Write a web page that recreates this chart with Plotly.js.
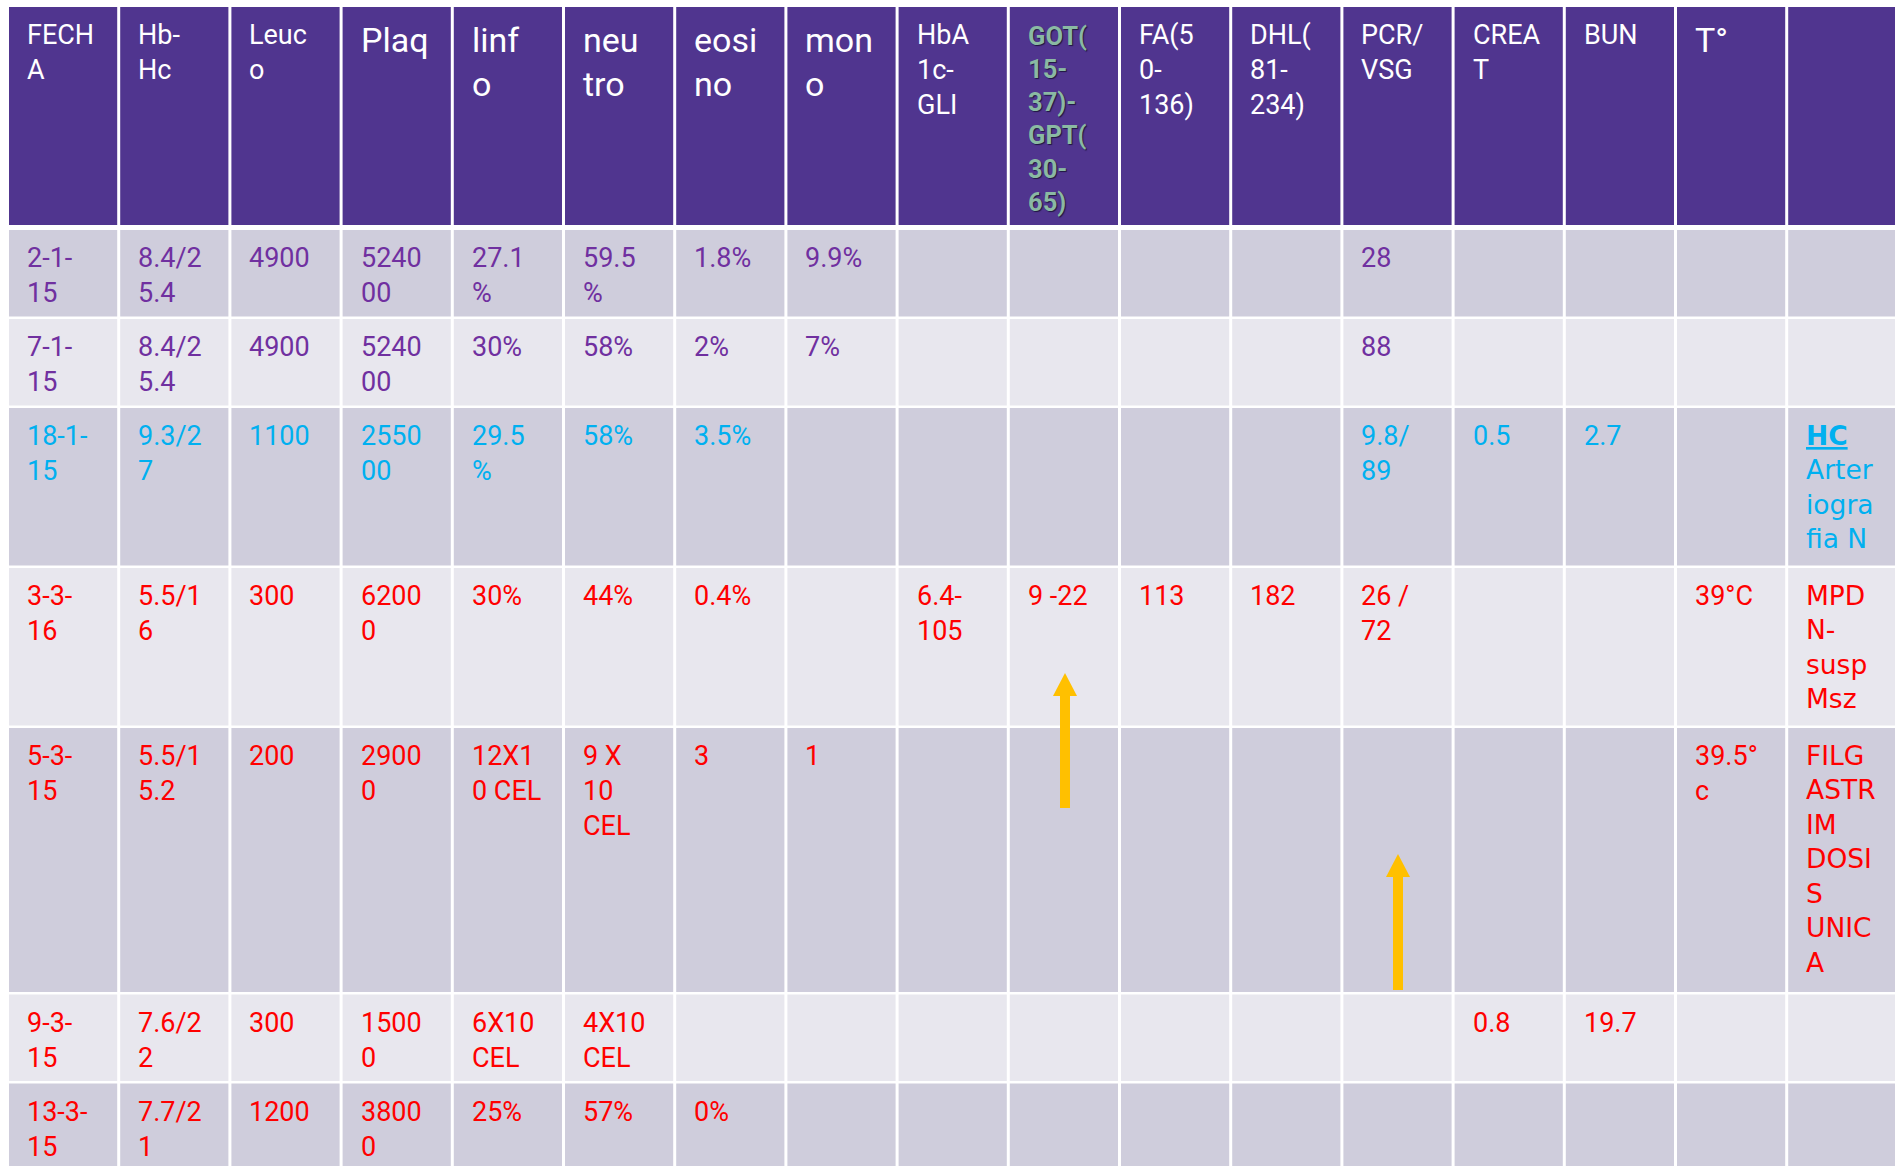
<!DOCTYPE html>
<html><head><meta charset="utf-8">
<script src="https://cdn.plot.ly/plotly-3.0.1.min.js"></script>
<style>html,body{margin:0;padding:0;background:#fff;overflow:hidden}#chart{width:1895px;height:1166px}</style>
</head><body><div id="chart"></div>
<script>
// ---------- DATA (cell texts as shown, "\n" = line break in the slide) ----------
const headers = ['FECH\nA','Hb-\nHc','Leuc\no','Plaq','linf\no','neu\ntro','eosi\nno','mon\no','HbA\n1c-\nGLI','GOT(\n15-\n37)-\nGPT(\n30-\n65)','FA(5\n0-\n136)','DHL(\n81-\n234)','PCR/\nVSG','CREA\nT','BUN','T°',''];
const fecha    = ['2-1-\n15','7-1-\n15','18-1-\n15','3-3-\n16','5-3-\n15','9-3-\n15','13-3-\n15'];
const hbHc     = ['8.4/2\n5.4','8.4/2\n5.4','9.3/2\n7','5.5/1\n6','5.5/1\n5.2','7.6/2\n2','7.7/2\n1'];
const leuco    = ['4900','4900','1100','300','200','300','1200'];
const plaq     = ['5240\n00','5240\n00','2550\n00','6200\n0','2900\n0','1500\n0','3800\n0'];
const linfo    = ['27.1\n%','30%','29.5\n%','30%','12X1\n0 CEL','6X10\nCEL','25%'];
const neutro   = ['59.5\n%','58%','58%','44%','9 X\n10\nCEL','4X10\nCEL','57%'];
const eosino   = ['1.8%','2%','3.5%','0.4%','3','','0%'];
const mono     = ['9.9%','7%','','','1','',''];
const hba1cGli = ['','','','6.4-\n105','','',''];
const gotGpt   = ['','','','9 -22','','',''];
const fa       = ['','','','113','','',''];
const dhl      = ['','','','182','','',''];
const pcrVsg   = ['28','88','9.8/\n89','26 /\n72','','',''];
const creat    = ['','','0.5','','','0.8',''];
const bun      = ['','','2.7','','','19.7',''];
const temp     = ['','','','39°C','39.5°\nc','',''];
const notas    = ['','','<b><u>HC</u></b>\nArter\niogra\nfia N','MPD\nN-\nsusp\nMsz','FILG\nASTR\nIM\nDOSI\nS\nUNIC\nA','',''];
const columns  = [fecha,hbHc,leuco,plaq,linfo,neutro,eosino,mono,hba1cGli,gotGpt,fa,dhl,pcrVsg,creat,bun,temp,notas];

// ---------- STYLE / LAYOUT ----------
const W = 1895, H = 1166;
const X0 = 7.5, CW = 111.2;
const HEAD_TOP = 7, HEAD_BOT = 225, BODY_TOP = 230;
const LINE_PITCH = 35.5, ROW_BASE = 18, ROW_GAP = 2.5;
const HEAD_FILL = '#50358F';
const ROW_FILLS = ['#CFCDDC', '#E8E7EE'];
const ROW_TEXT = ['#7030A0','#7030A0','#00B0F0','#FF0000','#FF0000','#FF0000','#FF0000'];
const BIG_HEAD = new Set([3,4,5,6,7,15]);
const GOT_COL = 9, NOTE_COL = 16;
const ARROW_COLOR = '#FFC000';
const arrowMarks = [ {x: 1065, tip: 673, tail: 808}, {x: 1398, tip: 854, tail: 990} ];

(function build() {
  const br = s => s.split('\n').join('<br>');
  const shapes = [], annotations = [];
  const nCols = headers.length, nRows = fecha.length;
  const cellL = i => X0 + i*CW + 1.5;
  const cellR = i => X0 + (i+1)*CW - 1.5;

  // header
  for (let c = 0; c < nCols; c++) {
    shapes.push({type:'rect', xref:'x', yref:'y', x0:cellL(c), x1:cellR(c), y0:HEAD_TOP, y1:HEAD_BOT,
                 fillcolor:HEAD_FILL, line:{width:0}, layer:'below'});
    if (!headers[c]) continue;
    let font, y;
    if (c === GOT_COL) {
      font = {family:'Roboto', size:25.5, color:'#8AB9A3', weight:'bold', shadow:'1px 1px 1px #1f1640'};
      y = HEAD_TOP + 12;
    } else if (BIG_HEAD.has(c)) {
      font = {family:'Roboto', size:34, color:'#FFFFFF'}; y = HEAD_TOP + 11;
    } else {
      font = {family:'Roboto', size:27, color:'#FFFFFF'}; y = HEAD_TOP + 10;
    }
    annotations.push({xref:'x', yref:'y', x:cellL(c)+16, y:y, xanchor:'left', yanchor:'top',
                      align:'left', showarrow:false, text:br(headers[c]), font:font});
  }

  // body
  let rowTop = BODY_TOP;
  for (let r = 0; r < nRows; r++) {
    const lines = Math.max(...columns.map(col => col[r] ? col[r].split('\n').length : 1));
    const pitch = LINE_PITCH*lines + ROW_BASE;
    for (let c = 0; c < nCols; c++) {
      shapes.push({type:'rect', xref:'x', yref:'y', x0:cellL(c), x1:cellR(c), y0:rowTop, y1:rowTop+pitch-ROW_GAP,
                   fillcolor:ROW_FILLS[r%2], line:{width:0}, layer:'below'});
      const t = columns[c][r];
      if (!t) continue;
      const font = c === NOTE_COL
        ? {family:'DejaVu Sans', size:26.5, color:ROW_TEXT[r]}
        : {family:'Roboto', size:27, color:ROW_TEXT[r]};
      annotations.push({xref:'x', yref:'y', x:cellL(c)+16, y:rowTop+10, xanchor:'left', yanchor:'top',
                        align:'left', showarrow:false, text:br(t), font:font});
    }
    rowTop += pitch;
  }

  // arrows
  arrowMarks.forEach(a => {
    const headLen = 23, headHalf = 12, shaftHalf = 5;
    shapes.push({type:'rect', xref:'x', yref:'y', x0:a.x-shaftHalf, x1:a.x+shaftHalf, y0:a.tip+headLen-1, y1:a.tail,
                 fillcolor:ARROW_COLOR, line:{width:0}});
    shapes.push({type:'path', xref:'x', yref:'y',
                 path:`M ${a.x-headHalf},${a.tip+headLen} L ${a.x},${a.tip} L ${a.x+headHalf},${a.tip+headLen} Z`,
                 fillcolor:ARROW_COLOR, line:{width:0}});
  });

  const data = [{type:'scatter', x:[0], y:[0], mode:'markers', marker:{opacity:0}, hoverinfo:'skip', showlegend:false}];
  const layout = {
    width:W, height:H, margin:{l:0,r:0,t:0,b:0}, paper_bgcolor:'#FFFFFF', plot_bgcolor:'#FFFFFF',
    xaxis:{range:[0,W], visible:false, fixedrange:true},
    yaxis:{range:[H,0], visible:false, fixedrange:true},
    shapes:shapes, annotations:annotations, showlegend:false
  };
  Plotly.newPlot('chart', data, layout, {displayModeBar:false, staticPlot:true});
})();
</script></body></html>
